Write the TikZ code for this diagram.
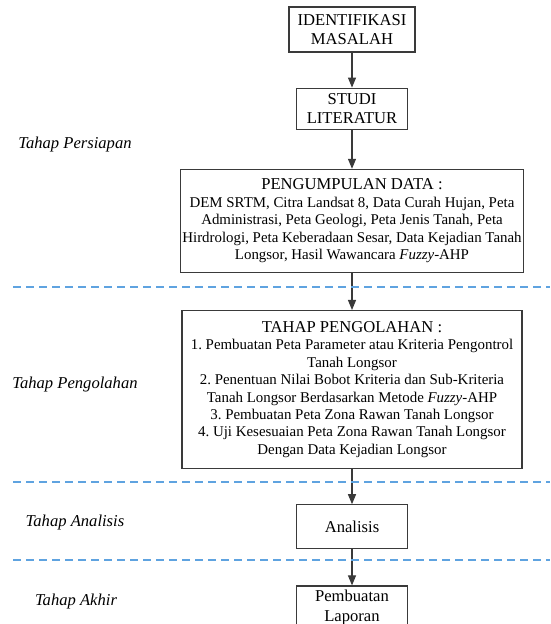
\documentclass[tikz,border=0pt]{standalone}
\usepackage{fontspec}
\setmainfont{Liberation Serif}
\usetikzlibrary{arrows.meta,positioning}
\definecolor{BoxLine}{HTML}{3A3A3A}
\definecolor{SepBlue}{HTML}{5FA3E0}
\newcommand{\boxtext}{\fontsize{14.9}{17.4}\selectfont}
\newcommand{\boxtitle}{\fontsize{16.6}{19.4}\selectfont}
\frenchspacing

\begin{document}
\begin{tikzpicture}[
  x=1pt,y=1pt,
  box/.style={draw=BoxLine,line width=1.2pt,align=center,inner sep=2pt,font=\boxtitle},
  smallbox/.style={box,minimum width=111pt,minimum height=42pt},
  bigbox/.style={box,minimum width=340pt,font=\boxtext},
  arr/.style={-{Triangle[length=10pt,width=8pt]},line width=1.1pt,BoxLine},
  sep/.style={dash pattern=on 8pt off 5pt,line width=1.4pt,SepBlue},
  stage/.style={font=\boxtitle\itshape}
]
\useasboundingbox (0,0) rectangle (550,624);

\node[box,minimum width=126pt,minimum height=45pt] (ident) at (352,594.5) {IDENTIFIKASI\\MASALAH};
\node[smallbox,minimum height=41pt,below=35pt of ident] (studi) {STUDI\\LITERATUR};
\node[bigbox,minimum height=103pt,below=39pt of studi] (kumpul) {{\boxtitle PENGUMPULAN DATA :}\\
  DEM SRTM, Citra Landsat 8, Data Curah Hujan, Peta\\
  Administrasi, Peta Geologi, Peta Jenis Tanah, Peta\\
  Hirdrologi, Peta Keberadaan Sesar, Data Kejadian Tanah\\
  Longsor, Hasil Wawancara \textit{Fuzzy}-AHP};
\node[bigbox,minimum height=158pt,below=37pt of kumpul] (olah) {{\boxtitle TAHAP PENGOLAHAN :}\\
  1. Pembuatan Peta Parameter atau Kriteria Pengontrol\\
  Tanah Longsor\\
  2. Penentuan Nilai Bobot Kriteria dan Sub-Kriteria\\
  Tanah Longsor Berdasarkan Metode \textit{Fuzzy}-AHP\\
  3. Pembuatan Peta Zona Rawan Tanah Longsor\\
  4. Uji Kesesuaian Peta Zona Rawan Tanah Longsor\\
  Dengan Data Kejadian Longsor};
\node[smallbox,minimum height=44pt,below=35pt of olah] (analisis) {Analisis};
\node[smallbox,minimum height=43pt,below=36pt of analisis] (laporan) {Pembuatan\\Laporan};

\draw[arr] (ident) -- (studi);
\draw[arr] (studi) -- (kumpul);
\draw[arr] (kumpul) -- (olah);
\draw[arr] (olah) -- (analisis);
\draw[arr] (analisis) -- (laporan);

% pemisah tahap
\draw[sep] (13,337) -- (550,337);
\draw[sep] (13,142) -- (550,142);
\draw[sep] (13,64) -- (550,64);

\node[stage] (persiapan) at (75,479) {Tahap Persiapan};
\node[stage] (pengolahan) at (75,239) {Tahap Pengolahan};
\node[stage] (tanalisis) at (75,101) {Tahap Analisis};
\node[stage] (akhir) at (76,22) {Tahap Akhir};
\end{tikzpicture}
\end{document}
